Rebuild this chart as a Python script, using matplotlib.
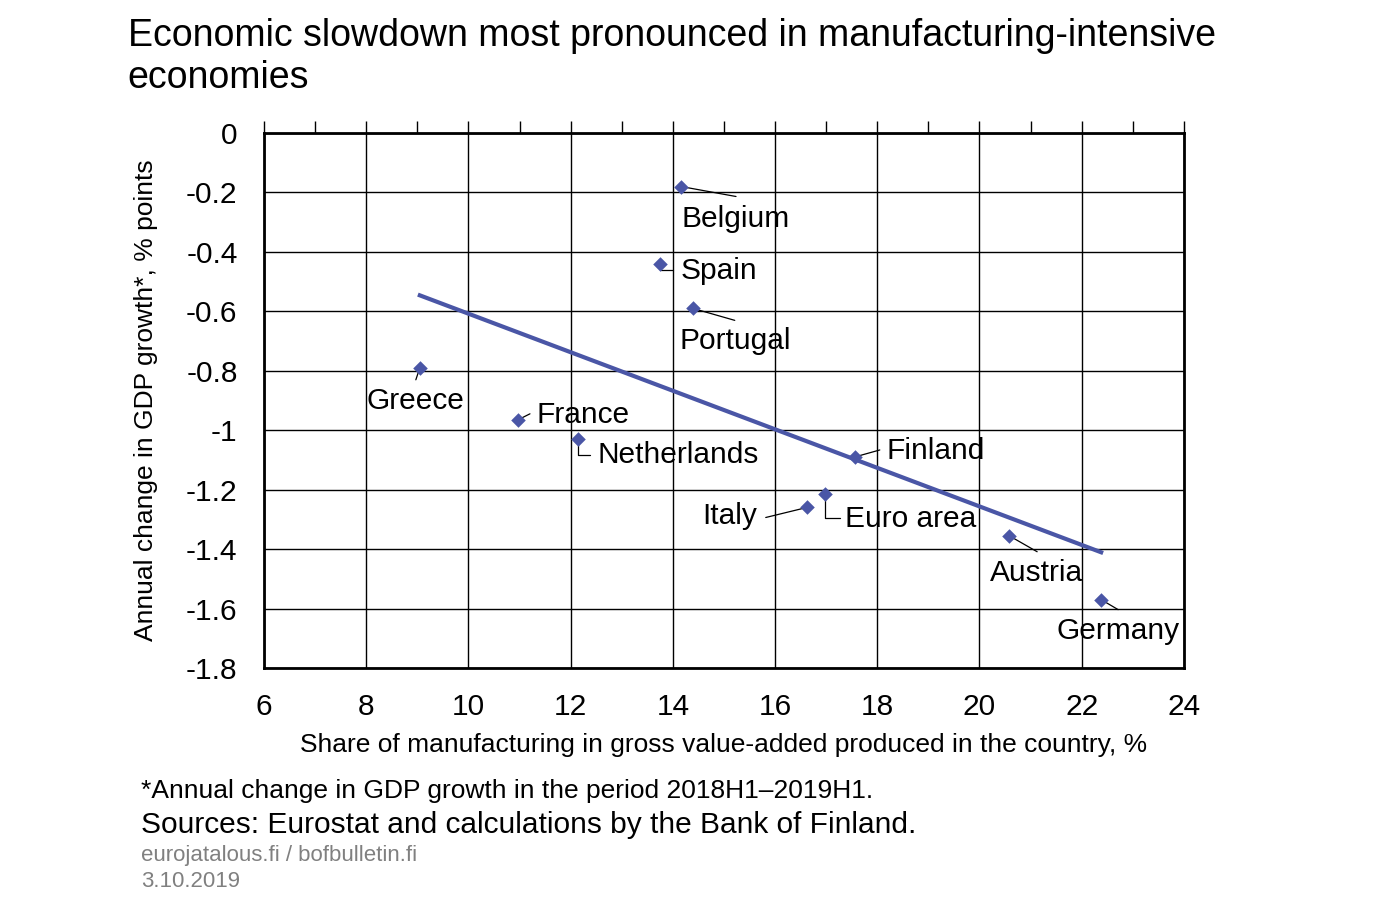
import numpy as np
import matplotlib.pyplot as plt

plt.rcParams["font.family"] = ["Liberation Sans", "DejaVu Sans"]

# Data
countries = ["Belgium", "Spain", "Portugal", "Greece", "France", "Netherlands",
             "Finland", "Euro area", "Italy", "Austria", "Germany"]
manuf_share = [14.16, 13.75, 14.39, 9.05, 10.97, 12.14,
               17.56, 16.98, 16.62, 20.58, 22.38]
gdp_change = [-0.18, -0.44, -0.59, -0.79, -0.965, -1.03,
              -1.09, -1.215, -1.26, -1.355, -1.57]

# label offsets in pixels (dx, dy) and horizontal alignment
label_pos = {
    "Belgium": (55, -32, "center"),
    "Spain": (21, -7, "left"),
    "Portugal": (42, -33, "center"),
    "Greece": (-4, -33, "center"),
    "France": (19, 5, "left"),
    "Netherlands": (20, -16, "left"),
    "Finland": (32, 6, "left"),
    "Euro area": (20, -25, "left"),
    "Italy": (-50, -9, "right"),
    "Austria": (27, -37, "center"),
    "Germany": (17, -31, "center"),
}
leader_end = {
    "Belgium": (55, -10),
    "Spain": (13, -6),
    "Portugal": (42, -12),
    "Greece": (-4, -12),
    "France": (12, 6),
    "Netherlands": (12, -16),
    "Finland": (25, 7),
    "Euro area": (15, -24),
    "Italy": (-41, -10),
    "Austria": (28, -16),
    "Germany": (17, -10),
}

fig = plt.figure(figsize=(13.87, 9.06), dpi=100)
ax = fig.add_axes([0.1903, 0.2627, 0.6633, 0.5905])

blue = "#4a56a6"

# trend line (least squares fit)
x = np.array(manuf_share)
y = np.array(gdp_change)
k, b = np.polyfit(x, y, 1)
xs = np.array([x.min(), x.max()])
ax.plot(xs, k * xs + b, color=blue, lw=3, zorder=3)

ax.scatter(x, y, marker="D", s=55, color=blue, zorder=4, linewidths=0)

for name, xv, yv in zip(countries, manuf_share, gdp_change):
    dx, dy, ha = label_pos[name]
    ex, ey = leader_end[name]
    props = dict(arrowstyle="-", lw=0.9, color="black", shrinkA=0, shrinkB=2)
    if name in ("Euro area", "Spain", "Netherlands"):
        props["connectionstyle"] = "angle,angleA=0,angleB=90,rad=0"
    ax.annotate("", xy=(xv, yv), xytext=(ex, ey), textcoords="offset pixels",
                arrowprops=props, zorder=2)
    ax.annotate(name, xy=(xv, yv), xytext=(dx, dy), textcoords="offset pixels",
                ha=ha, va="center", fontsize=21.5, zorder=5)

ax.set_xlim(6, 24)
ax.set_ylim(-1.8, 0)
ax.set_xticks(np.arange(6, 25, 2))
ax.set_xticklabels([str(v) for v in range(6, 25, 2)])
yt = np.round(np.arange(-1.8, 0.01, 0.2), 1)
ax.set_yticks(yt)
ax.set_yticklabels(["0" if v == 0 else f"{v:g}" for v in yt])
ax.grid(True, color="black", lw=1)
ax.set_axisbelow(True)
ax.tick_params(axis="y", length=0, labelsize=21.5, pad=19)
ax.tick_params(axis="x", length=0, labelsize=21.5, pad=18)

# minor ticks on top edge (x axis crosses at zero)
sec = ax.secondary_xaxis("top")
sec.set_xticks(np.arange(6, 25, 1))
sec.set_xticklabels([])
sec.tick_params(length=9, width=1, direction="out")
sec.spines["top"].set_visible(False)

for s in ax.spines.values():
    s.set_linewidth(2)

ax.set_xlabel("Share of manufacturing in gross value-added produced in the country, %",
              fontsize=19, labelpad=9)
ax.set_ylabel("Annual change in GDP growth*, % points", fontsize=19, labelpad=20)

fig.text(0.092, 0.980, "Economic slowdown most pronounced in manufacturing-intensive\neconomies",
         fontsize=27, va="top", ha="left", linespacing=1.21)
fig.text(0.102, 0.127, "*Annual change in GDP growth in the period 2018H1\u20132019H1.",
         fontsize=19, va="center")
fig.text(0.102, 0.089, "Sources: Eurostat and calculations by the Bank of Finland.",
         fontsize=21.5, va="center")
fig.text(0.102, 0.056, "eurojatalous.fi / bofbulletin.fi", fontsize=16,
         color="#808080", va="center")
fig.text(0.102, 0.027, "3.10.2019", fontsize=16, color="#808080", va="center")

fig.savefig("out.png", dpi=100)
